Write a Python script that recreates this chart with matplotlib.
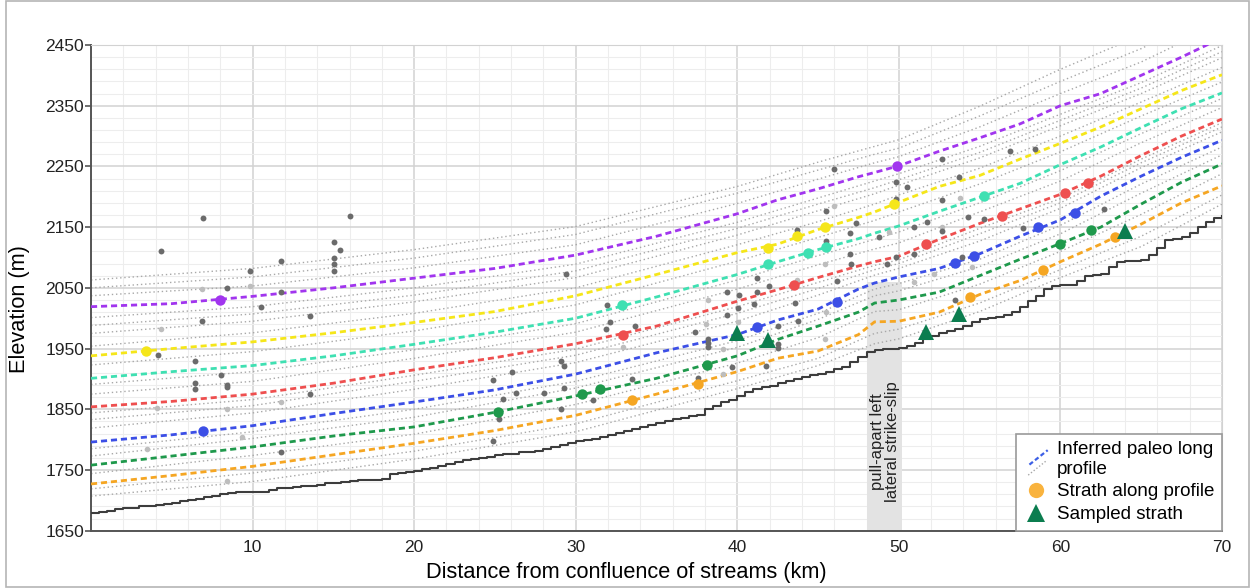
import matplotlib
matplotlib.use('Agg')
import matplotlib.pyplot as plt
from matplotlib.lines import Line2D
from matplotlib.legend_handler import HandlerBase
from matplotlib.patches import Rectangle

plt.rcParams['font.family'] = ['Liberation Sans', 'DejaVu Sans']

# ---------------- data ----------------
# knots (km) for the coloured inferred paleo long profiles
prof_x = [0, 5, 10, 15, 20, 25, 30, 35, 40, 42.5, 45, 47.5, 48.5, 50,
          52.5, 55, 57.5, 60, 62.5, 65, 67.5, 70]
purple = [2019, 2024, 2036, 2050, 2066, 2082, 2104, 2135, 2172, 2195, 2213,
          2233, 2240, 2251, 2275, 2297, 2320, 2350, 2370, 2400, 2430, 2462]
yellow = [1938, 1950, 1961, 1976, 1993, 2011, 2037, 2072, 2108, 2122, 2146,
          2166, 2175, 2191, 2217, 2235, 2262, 2288, 2315, 2345, 2375, 2401]
aqua = [1901, 1912, 1922, 1938, 1957, 1977, 2000, 2035, 2072, 2093, 2113,
        2131, 2140, 2152, 2176, 2199, 2222, 2253, 2282, 2314, 2345, 2371]
red = [1854, 1863, 1875, 1893, 1915, 1935, 1958, 1987, 2028, 2047, 2067,
       2086, 2093, 2102, 2130, 2156, 2180, 2204, 2234, 2268, 2300, 2328]
blue = [1796, 1808, 1823, 1843, 1862, 1882, 1908, 1943, 1973, 1997, 2015,
        2048, 2058, 2068, 2082, 2106, 2135, 2162, 2201, 2234, 2265, 2293]
green = [1758, 1773, 1788, 1806, 1821, 1845, 1872, 1901, 1938, 1965, 1987,
         2010, 2025, 2030, 2043, 2070, 2097, 2123, 2150, 2188, 2224, 2254]
orange = [1727, 1741, 1756, 1775, 1794, 1815, 1840, 1875, 1912, 1934, 1946,
          1973, 1994, 1995, 2010, 2039, 2062, 2093, 2122, 2155, 2190, 2218]

# knots (km) for the grey dotted profiles
grey_x = [0, 10, 20, 30, 40, 45, 48.5, 50, 55, 60, 65, 70]
grey_profiles = [
    [2063, 2082, 2113, 2151, 2217, 2257, 2283, 2294, 2349, 2410, 2466, 2534],
    [2050, 2068, 2099, 2138, 2206, 2244, 2270, 2280, 2333, 2390, 2444, 2510],
    [2037, 2053, 2083, 2121, 2189, 2229, 2256, 2266, 2315, 2370, 2422, 2486],
    [2001, 2019, 2050, 2089, 2158, 2198, 2226, 2238, 2283, 2336, 2388, 2449],
    [1988, 2007, 2038, 2078, 2148, 2188, 2215, 2228, 2273, 2326, 2379, 2439],
    [1975, 1995, 2027, 2067, 2137, 2177, 2205, 2219, 2264, 2317, 2370, 2429],
    [1954, 1976, 2008, 2050, 2121, 2159, 2188, 2203, 2247, 2300, 2356, 2413],
    [1923, 1945, 1979, 2022, 2094, 2133, 2161, 2175, 2221, 2274, 2333, 2389],
    [1891, 1912, 1948, 1991, 2063, 2103, 2130, 2142, 2190, 2243, 2304, 2362],
    [1875, 1896, 1934, 1977, 2048, 2088, 2114, 2124, 2175, 2226, 2289, 2347],
    [1844, 1866, 1906, 1949, 2019, 2059, 2087, 2096, 2148, 2197, 2262, 2322],
    [1833, 1856, 1896, 1939, 2008, 2049, 2080, 2090, 2139, 2190, 2256, 2315],
    [1819, 1844, 1883, 1927, 1995, 2038, 2071, 2082, 2127, 2181, 2248, 2307],
    [1785, 1813, 1850, 1896, 1963, 2008, 2048, 2057, 2097, 2153, 2221, 2282],
    [1773, 1802, 1837, 1885, 1952, 1998, 2037, 2045, 2085, 2139, 2206, 2269],
    [1744, 1774, 1809, 1858, 1926, 1968, 2011, 2014, 2056, 2110, 2171, 2238],
    [1719, 1745, 1781, 1826, 1897, 1934, 1975, 1982, 2025, 2080, 2135, 2203],
    [1707, 1731, 1768, 1813, 1884, 1922, 1958, 1966, 2011, 2067, 2118, 2188],
]

# modern river long profile, every 0.5 km from 0 to 70
river_z = [1680, 1681, 1683, 1685, 1687, 1688, 1690, 1691, 1693, 1694,
           1696, 1699, 1701, 1703, 1706, 1708, 1711, 1712, 1713, 1713,
           1713, 1714, 1717, 1720, 1721, 1722, 1723, 1724, 1726, 1728,
           1729, 1731, 1732, 1733, 1734, 1734, 1735, 1744, 1745, 1747,
           1748, 1751, 1754, 1757, 1760, 1763, 1766, 1768, 1770, 1772,
           1774, 1776, 1777, 1779, 1780, 1782, 1785, 1788, 1791, 1794,
           1797, 1799, 1801, 1805, 1808, 1811, 1814, 1818, 1821, 1824,
           1828, 1831, 1834, 1836, 1839, 1841, 1850, 1856, 1862, 1866,
           1872, 1879, 1884, 1886, 1889, 1893, 1897, 1900, 1903, 1906,
           1908, 1912, 1916, 1920, 1928, 1936, 1945, 1948, 1949, 1950,
           1951, 1955, 1960, 1966, 1970, 1975, 1979, 1983, 1988, 1994,
           1998, 2001, 2002, 2005, 2010, 2018, 2028, 2036, 2048, 2053,
           2054, 2055, 2062, 2069, 2071, 2073, 2085, 2093, 2094, 2095,
           2096, 2104, 2115, 2129, 2131, 2133, 2140, 2150, 2158, 2165,
           2168]
river_x = [i * 0.5 for i in range(len(river_z))]

# terrace points (grey)
dark_x = [6.93, 4.31, 11.75, 9.85, 8.43, 11.75, 10.53, 6.9, 4.16, 6.43, 8.02,
          6.43, 6.43, 8.43, 8.43, 11.75,
          16.0, 15.07, 15.4, 15.07, 15.07, 15.07, 13.54, 13.54, 24.88, 26.08,
          25.5, 26.3, 28.03, 25.25, 24.88,
          29.4, 31.93, 32.1, 31.85, 33.7, 29.1, 29.3, 33.5, 29.3, 31.1, 29.1,
          41.2, 41.95, 39.35, 40.1, 41.2, 41.05, 40.05, 39.35, 37.4, 38.2,
          38.2, 38.2, 42.5, 42.5, 39.7, 41.8, 37.6, 42.5,
          45.97, 52.65, 49.84, 50.5, 53.7, 49.84, 52.65, 45.5, 47.35, 54.3,
          55.3, 51.74, 43.7, 50.96, 52.65, 47.0, 48.8, 45.47, 47.0, 49.84,
          50.96, 47.05, 49.25, 53.9, 46.2, 43.58, 43.76, 53.45,
          56.9, 58.44, 62.7, 57.7, 64.05]
dark_z = [2165, 2110, 2095, 2078, 2050, 2043, 2019, 1995, 1939, 1929, 1906,
          1893, 1883, 1890, 1886, 1779,
          2169, 2125, 2113, 2099, 2089, 2078, 2004, 1876, 1898, 1911,
          1867, 1877, 1877, 1834, 1797,
          2072, 2021, 1994, 1982, 1987, 1929, 1922, 1900, 1885, 1866, 1851,
          2067, 2053, 2043, 2038, 2043, 2023, 2016, 2005, 1978, 1966,
          1960, 1953, 1951, 1957, 1919, 1922, 1901, 1988,
          2246, 2262, 2225, 2216, 2232, 2196, 2194, 2176, 2157, 2166,
          2163, 2158, 2146, 2151, 2143, 2140, 2133, 2127, 2105, 2101,
          2106, 2089, 2089, 2101, 2061, 2025, 1996, 2030,
          2276, 2279, 2180, 2148, 2137]
light_x = [6.86, 9.85, 4.31, 11.75, 4.08, 8.43, 9.32, 3.48, 8.43,
           32.9, 38.2, 38.08, 40.05, 39.1, 39.1,
           45.97, 53.8, 52.65, 49.4, 45.45, 54.5, 52.2, 50.96, 43.7, 45.5,
           45.4]
light_z = [2048, 2053, 1983, 1862, 1852, 1850, 1804, 1785, 1732,
           1952, 2030, 1990, 1993, 1949, 1908,
           2185, 2198, 2150, 2142, 2090, 2085, 2072, 2059, 2063, 2010,
           1966]

# strath points along each profile
straths = {
    'purple': ([8.0, 49.9], [2030, 2251]),
    'yellow': ([3.4, 41.9, 43.7, 45.45, 49.7], [1946, 2116, 2135, 2150, 2188]),
    'aqua': ([32.86, 41.9, 44.4, 45.5, 55.25], [2022, 2090, 2107, 2118, 2202]),
    'red': ([32.9, 43.5, 51.7, 56.4, 60.3, 61.7],
            [1973, 2054, 2123, 2168, 2207, 2222]),
    'blue': ([6.95, 41.2, 46.2, 53.5, 54.65, 58.6, 60.9],
             [1815, 1985, 2027, 2091, 2102, 2150, 2173]),
    'green': ([25.2, 30.4, 31.5, 38.1, 60.0, 61.9],
              [1845, 1875, 1883, 1923, 2123, 2146]),
    'orange': ([33.5, 37.6, 54.4, 58.9, 63.4], [1865, 1891, 2035, 2080, 2133]),
}
sampled_x = [40.0, 41.9, 51.7, 53.7, 64.0]
sampled_z = [1975, 1964, 1978, 2007, 2143]

colors = {'purple': '#a135ee', 'yellow': '#f5e61a', 'aqua': '#3fe0b2',
          'red': '#ee4f4f', 'blue': '#3c4fe6', 'green': '#1f994c',
          'orange': '#f5a623'}
profiles = {'purple': purple, 'yellow': yellow, 'aqua': aqua, 'red': red,
            'blue': blue, 'green': green, 'orange': orange}

# ---------------- figure ----------------
fig = plt.figure(figsize=(12.52, 5.88), dpi=100)
ax = fig.add_axes([0.0727, 0.0974, 0.9033, 0.8261])
fig.patches.append(Rectangle((0.005, 0.002), 0.993, 0.996, transform=fig.transFigure,
                             fill=False, edgecolor='#b5b5b5', linewidth=1.2))

ax.set_xlim(0, 70)
ax.set_ylim(1650, 2450)
ax.set_xticks(range(0, 71, 10))
ax.set_xticklabels([''] + [str(v) for v in range(10, 71, 10)])
ax.set_xticks(range(0, 71, 2), minor=True)
ax.set_yticks(range(1650, 2451, 100))
ax.set_yticks(range(1650, 2451, 20), minor=True)
ax.grid(which='major', color='#d2d2d2', linewidth=1.1)
ax.grid(which='minor', color='#ededed', linewidth=0.8)
ax.set_axisbelow(True)
ax.tick_params(axis='both', which='major', labelsize=12.5, colors='#222222')
ax.tick_params(axis='x', which='both', length=0, pad=7)
ax.tick_params(axis='y', which='major', length=4, width=1.2, color='#555555', pad=1)
ax.tick_params(axis='y', which='minor', length=0)
for s in ['top', 'right']:
    ax.spines[s].set_color('#d2d2d2')
for s in ['left', 'bottom']:
    ax.spines[s].set_color('#555555')
    ax.spines[s].set_linewidth(1.4)

# pull-apart zone
ax.fill_between([48.0, 50.2], 1650, 2060, color='#e3e3e3', linewidth=0, zorder=1)
ax.text(49.15, 1797, 'pull-apart left\nlateral strike-slip', rotation=90,
        ha='center', va='center', multialignment='center', fontsize=12,
        color='#222222', zorder=2, linespacing=1.0)

for gz in grey_profiles:
    ax.plot(grey_x, gz, color='#a8a8a8', linestyle=(0, (1, 2)), linewidth=1.0, zorder=2)

for name, vals in profiles.items():
    ax.plot(prof_x, vals, color=colors[name], linestyle=(0, (2.2, 1.4)),
            linewidth=2.0, zorder=3)

ax.plot(river_x, river_z, color='#3d3d3d', linewidth=1.5, drawstyle='steps-post', zorder=4)

ax.scatter(light_x, light_z, s=16, color='#bdbdbd', linewidths=0, zorder=5)
ax.scatter(dark_x, dark_z, s=18, color='#6b6b6b', linewidths=0, zorder=5)

for name, (sx, sz) in straths.items():
    ax.plot(sx, sz, linestyle='none', marker='o', markersize=7.5,
            color=colors[name], markeredgewidth=0, zorder=6)
ax.plot(sampled_x, sampled_z, linestyle='none', marker='^', markersize=11,
        color='#0b7d4f', markeredgewidth=0, zorder=7)

ax.set_xlabel('Distance from confluence of streams (km)', fontsize=15.7)
ax.xaxis.set_label_coords(0.473, -0.065)
ax.set_ylabel('Elevation (m)', fontsize=15.7)
ax.yaxis.set_label_coords(-0.054, 0.456)


class DiagHandler(HandlerBase):
    def create_artists(self, legend, orig_handle, xdescent, ydescent,
                       width, height, fontsize, trans):
        x0 = -xdescent
        y0 = -ydescent
        l1 = Line2D([x0 + 0.25 * width, x0 + width], [y0 + 0.1 * height, y0 + 1.2 * height],
                    color='#3c5fe6', linestyle=(0, (2, 1.2)), linewidth=1.6)
        l2 = Line2D([x0 + 0.2 * width, x0 + 0.95 * width], [y0 - 0.7 * height, y0 + 0.4 * height],
                    color='#a8a8a8', linestyle=(0, (1, 1.5)), linewidth=1.0)
        l1.set_transform(trans)
        l2.set_transform(trans)
        return [l1, l2]


h_profile = Line2D([], [])
h_strath = Line2D([], [], linestyle='none', marker='o', markersize=11,
                  color='#f9b33e', markeredgewidth=0)
h_sampled = Line2D([], [], linestyle='none', marker='^', markersize=13,
                   color='#0b7d4f', markeredgewidth=0)
leg = ax.legend([h_profile, h_strath, h_sampled],
                ['Inferred paleo long\nprofile', 'Strath along profile', 'Sampled strath'],
                handler_map={h_profile: DiagHandler()},
                loc='lower right', borderaxespad=0, fontsize=13.5, frameon=True,
                fancybox=False, edgecolor='#9a9a9a', framealpha=1,
                handlelength=1.3, handletextpad=0.5, labelspacing=0.3,
                borderpad=0.4)
leg.get_frame().set_linewidth(1.2)
leg.set_zorder(10)

fig.savefig('out.png', dpi=100)
